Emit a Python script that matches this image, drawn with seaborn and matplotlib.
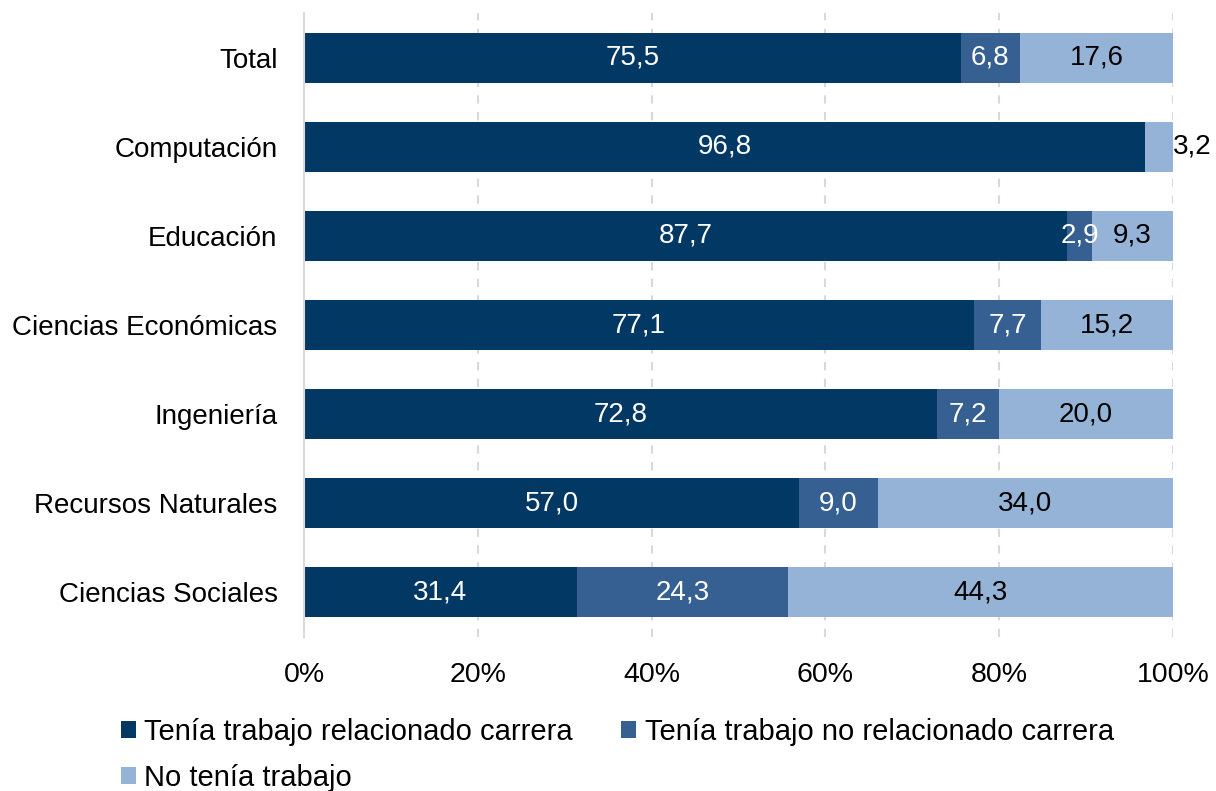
import numpy as np
import pandas as pd
import matplotlib
matplotlib.use("Agg")
import matplotlib.pyplot as plt
from matplotlib.patches import Patch
import seaborn as sns

categories = ["Total", "Computación", "Educación", "Ciencias Económicas",
              "Ingeniería", "Recursos Naturales", "Ciencias Sociales"]
relacionado = [75.5, 96.8, 87.7, 77.1, 72.8, 57.0, 31.4]
no_relacionado = [6.8, 0.0, 2.9, 7.7, 7.2, 9.0, 24.3]
sin_trabajo = [17.6, 3.2, 9.3, 15.2, 20.0, 34.0, 44.3]
series_names = ["Tenía trabajo relacionado carrera",
                "Tenía trabajo no relacionado carrera",
                "No tenía trabajo"]
xticks = [0, 20, 40, 60, 80, 100]

colors = ["#023864", "#376092", "#95B3D7"]

sns.set_theme(style="white")
plt.rcParams["font.family"] = ["Liberation Sans", "DejaVu Sans"]

df = pd.DataFrame({"cat": categories, "a": relacionado, "b": no_relacionado, "c": sin_trabajo})
tot = df["a"] + df["b"] + df["c"]
df["pa"] = df["a"] / tot * 100
df["pb"] = df["b"] / tot * 100
df["pc"] = df["c"] / tot * 100
df["cum1"] = df["pa"]
df["cum2"] = df["pa"] + df["pb"]
df["cum3"] = df["pa"] + df["pb"] + df["pc"]

fig = plt.figure(figsize=(12.16, 7.91), dpi=100)
ax = fig.add_axes([304/1216, 1-637/791, (1173-304)/1216, (637-13)/791])

bw = 0.56
sns.barplot(data=df, y="cat", x="cum3", color=colors[2], width=bw, ax=ax,
            orient="h", saturation=1, linewidth=0)
sns.barplot(data=df, y="cat", x="cum2", color=colors[1], width=bw, ax=ax,
            orient="h", saturation=1, linewidth=0)
sns.barplot(data=df, y="cat", x="cum1", color=colors[0], width=bw, ax=ax,
            orient="h", saturation=1, linewidth=0)

fs_lab = 20
for i, row in df.iterrows():
    ax.text(row["pa"] / 2, i, f"{row['a']:.1f}".replace(".", ","), ha="center",
            va="center", color="white", fontsize=fs_lab)
    if row["b"] > 0:
        ax.text(row["pa"] + row["pb"] / 2, i, f"{row['b']:.1f}".replace(".", ","),
                ha="center", va="center", color="white", fontsize=fs_lab)
    if row["c"] > 5:
        ax.text(row["cum2"] + row["pc"] / 2, i, f"{row['c']:.1f}".replace(".", ","),
                ha="center", va="center", color="black", fontsize=fs_lab)
    else:
        ax.text(row["cum3"], i, f"{row['c']:.1f}".replace(".", ","),
                ha="left", va="center", color="black", fontsize=fs_lab)

ax.set_xlim(0, 100)
ax.set_ylim(6.5, -0.5)
ax.set_xticks(xticks)
ax.set_xticklabels([f"{t}%" for t in xticks], fontsize=20.5)
ax.set_ylabel("")
ax.set_xlabel("")
ax.tick_params(axis="y", labelsize=20, length=0, pad=19, colors="black")
ax.tick_params(axis="x", length=0, pad=18, colors="black")
for s in ["top", "right", "bottom"]:
    ax.spines[s].set_visible(False)
ax.spines["left"].set_color("#D9D9D9")
ax.spines["left"].set_linewidth(1.5)
ax.set_axisbelow(True)
for t in xticks[1:]:
    ax.axvline(t, color="#D9D9D9", linewidth=1.5, linestyle=(0, (4, 4)), zorder=0)

handles = [Patch(facecolor=c, edgecolor="none") for c in colors]
order = [0, 2, 1]
leg = fig.legend([handles[i] for i in order], [series_names[i] for i in order],
                 ncol=2, loc="upper left", bbox_to_anchor=(121/1216, 1-718/791),
                 frameon=False, fontsize=21, handlelength=0.5, handleheight=0.5,
                 handletextpad=0.3, columnspacing=1.66, labelspacing=0.62,
                 borderaxespad=0, borderpad=0)
for t in leg.get_texts():
    t.set_color("black")

fig.savefig("out.png", dpi=100)
